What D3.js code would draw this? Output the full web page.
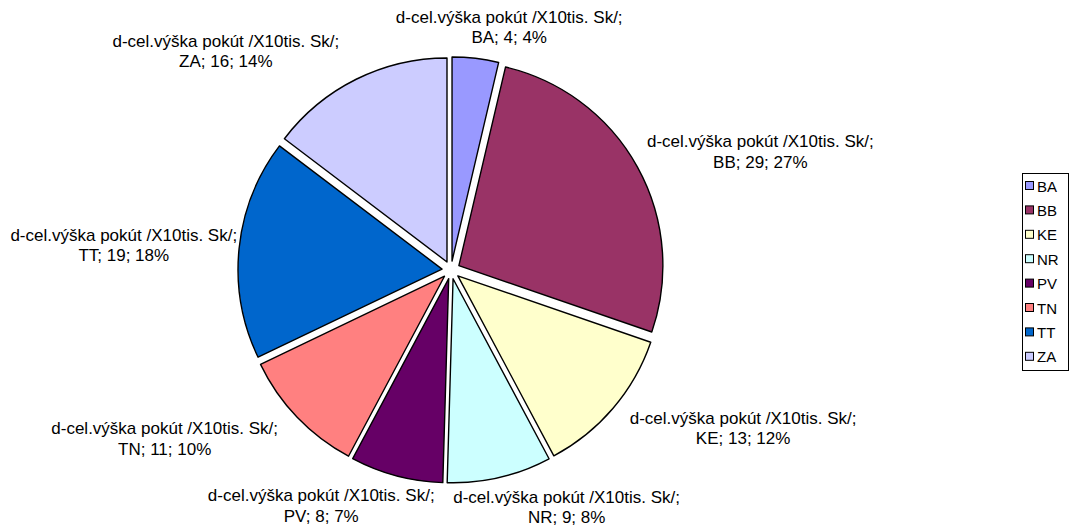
<!DOCTYPE html>
<html><head><meta charset="utf-8">
<script src="https://cdn.jsdelivr.net/npm/d3@7"></script>
<style>body{margin:0;background:#fff}svg{display:block}text{font-family:"Liberation Sans",Arial,sans-serif;fill:#000}</style>
</head><body><svg id="c" width="1073" height="527"></svg>
<script>
const categories = ["BA","BB","KE","NR","PV","TN","TT","ZA"];
const values = [4,29,13,9,8,11,19,16];
const pctLabels = ["4%","27%","12%","8%","7%","10%","18%","14%"];
const seriesName = "d-cel.výška pokút /X10tis. Sk/;";
const colors = ["#9999FF","#993366","#FFFFCC","#CCFFFF","#660066","#FF8080","#0066CC","#CCCCFF"];

const W=1073,H=527, cx=451, cy=270, R=204, explode=9;
const svg=d3.select("#c");
const pie=d3.pie().sort(null).value(d=>d.v);
const data=categories.map((c,i)=>({c,v:values[i],p:pctLabels[i],col:colors[i]}));
const arcs=pie(data);
const arc=d3.arc().innerRadius(0).outerRadius(R);
const g=svg.append("g").attr("transform",`translate(${cx},${cy})`);
g.selectAll("path").data(arcs).enter().append("path")
 .attr("d",arc)
 .attr("transform",d=>{const a=(d.startAngle+d.endAngle)/2;return `translate(${explode*Math.sin(a)},${-explode*Math.cos(a)})`;})
 .attr("fill",d=>d.data.col).attr("stroke","#000").attr("stroke-width",1.4).attr("stroke-linejoin","round");

// labels: placed outside the pie, box pushed outward from the mid-angle
const fs=17, lh=20.5;
const lab=arcs.map(d=>{
  const a=(d.startAngle+d.endAngle)/2, s=Math.sin(a), c=Math.cos(a);
  const side=Math.max(-1,Math.min(1,s/0.5));
  return {d, x:(R-54)*s+178*side, y:-(R+40)*c};
});
const lg=g.append("g");
lab.forEach(L=>{
  const t=lg.append("text").attr("text-anchor","middle").attr("font-size",fs)
   .attr("x",L.x).attr("y",L.y-lh/2+5.5);
  t.append("tspan").attr("x",L.x).text(seriesName);
  t.append("tspan").attr("x",L.x).attr("dy",lh).text(`${L.d.data.c}; ${L.d.data.v}; ${L.d.data.p}`);
});

// legend
const lx=1022, ly=173, lw=46, rowH=24.4;
const leg=svg.append("g");
leg.append("rect").attr("x",lx+0.5).attr("y",ly+0.5).attr("width",lw).attr("height",197).attr("fill","#fff").attr("stroke","#000");
categories.forEach((c,i)=>{
  const y=ly+13+i*rowH;
  leg.append("rect").attr("x",lx+3.5).attr("y",y-4.5).attr("width",8).attr("height",8).attr("fill",colors[i]).attr("stroke","#000");
  leg.append("text").attr("x",lx+15).attr("y",y+5.5).attr("font-size",15).text(c);
});
</script></body></html>
